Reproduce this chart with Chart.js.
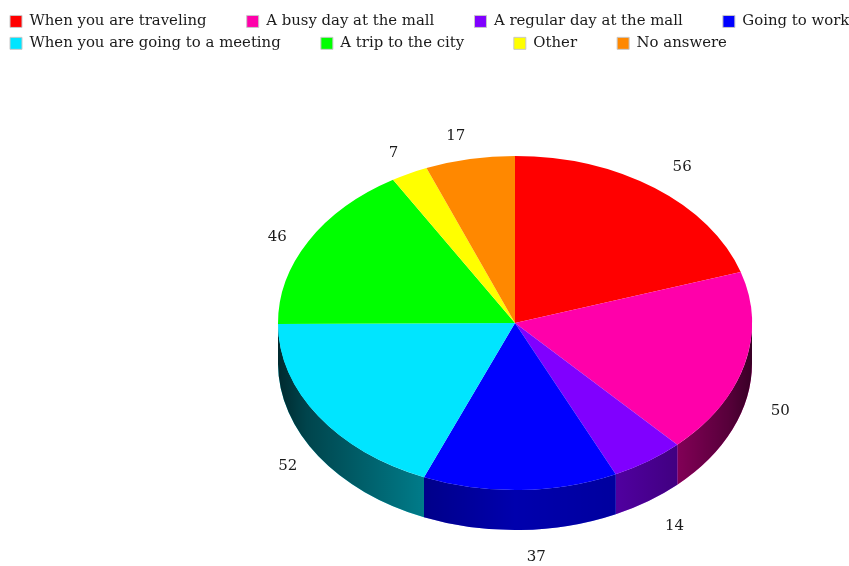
<!DOCTYPE html>
<html>
<head>
<meta charset="utf-8">
<title>Pie chart</title>
<script src="https://cdn.jsdelivr.net/npm/chart.js@4"></script>
<style>
  html, body { margin: 0; padding: 0; background: #fff; overflow: hidden; }
  canvas { display: block; }
</style>
</head>
<body>
<canvas id="pie-canvas" width="900" height="566"></canvas>
<script>
const categories = ['When you are traveling', 'A busy day at the mall', 'A regular day at the mall', 'Going to work',
  'When you are going to a meeting', 'A trip to the city', 'Other', 'No answere'];
const answers = [56, 50, 14, 37, 52, 46, 7, 17];
const colors = ['#ff0000', '#ff00aa', '#8000ff', '#0000ff', '#00e5ff', '#00ff00', '#ffff00', '#ff8800'];

const serif = 'DejaVu Serif';
const centerX = 515, centerY = 323;
const radiusX = 237, radiusY = 167, depth = 40;
// trailing spaces after each legend entry, the legend has one padding for rows and columns
const legendGaps = [7, 7, 7, 7, 7, 9, 7, 7];
// small per-label adjustments so the numbers clear the rim
const labelShift = [[5, -2], [-1, 0], [5, 6], [15, 4], [1, -3], [2, 7], [1, 0], [-7, 0]];

// draws the rim under the pie, then squashes the arcs into an ellipse
const tiltPlugin = {
  id: 'tilt',
  beforeDatasetsDraw(chart) {
    const ctx = chart.ctx;
    const arcs = chart.getDatasetMeta(0).data;
    arcs.forEach((arc, i) => {
      const a = Math.max(arc.startAngle, 0);
      const b = Math.min(arc.endAngle, Math.PI);
      if (b <= a) return;
      const path = () => {
        ctx.beginPath();
        ctx.ellipse(centerX, centerY, radiusX, radiusY, 0, a, b);
        ctx.ellipse(centerX, centerY + depth, radiusX, radiusY, 0, b, a, true);
        ctx.closePath();
      };
      ctx.fillStyle = colors[i];
      path();
      ctx.fill();
      const shade = ctx.createLinearGradient(centerX - radiusX, 0, centerX + radiusX, 0);
      shade.addColorStop(0, 'rgba(0,0,0,0.82)');
      shade.addColorStop(0.06, 'rgba(0,0,0,0.7)');
      shade.addColorStop(0.31, 'rgba(0,0,0,0.46)');
      shade.addColorStop(0.5, 'rgba(0,0,0,0.32)');
      shade.addColorStop(0.72, 'rgba(0,0,0,0.38)');
      shade.addColorStop(0.85, 'rgba(0,0,0,0.5)');
      shade.addColorStop(0.95, 'rgba(0,0,0,0.66)');
      shade.addColorStop(1, 'rgba(0,0,0,0.78)');
      ctx.fillStyle = shade;
      path();
      ctx.fill();
    });
    const first = arcs[0];
    ctx.save();
    ctx.translate(centerX, centerY);
    ctx.scale(1, radiusY / radiusX);
    ctx.translate(-first.x, -first.y);
  },
  afterDatasetsDraw(chart) {
    const ctx = chart.ctx;
    ctx.restore();
    // value labels around the pie
    ctx.save();
    ctx.font = '15px "' + serif + '"';
    ctx.fillStyle = '#1a1a1a';
    ctx.textAlign = 'center';
    ctx.textBaseline = 'middle';
    chart.getDatasetMeta(0).data.forEach((arc, i) => {
      const mid = (arc.startAngle + arc.endAngle) / 2;
      const x = centerX + 275 * Math.cos(mid) + labelShift[i][0];
      const y = centerY + 190 * Math.sin(mid) + (Math.sin(mid) > 0 ? depth : 0) + labelShift[i][1];
      ctx.fillText(String(answers[i]), x, y);
    });
    ctx.restore();
  }
};

new Chart('pie-canvas', {
  type: 'pie',
  data: {
    labels: categories,
    datasets: [{
      data: answers,
      backgroundColor: colors,
      borderWidth: 0,
      radius: radiusX
    }]
  },
  options: {
    responsive: false,
    animation: false,
    layout: { padding: { left: 3, top: 7 } },
    plugins: {
      tooltip: { enabled: false },
      legend: {
        position: 'top',
        align: 'start',
        labels: {
          boxWidth: 12,
          boxHeight: 12,
          padding: 7,
          color: '#1a1a1a',
          font: { family: serif, size: 14.9 },
          generateLabels(chart) {
            const items = Chart.overrides.pie.plugins.legend.labels.generateLabels(chart);
            return items.map((item, i) => {
              item.text = item.text + '\u00a0'.repeat(legendGaps[i]);
              item.strokeStyle = '#c8c8c8';
              item.lineWidth = 1;
              return item;
            });
          }
        }
      }
    }
  },
  plugins: [tiltPlugin]
});
</script>
</body>
</html>
